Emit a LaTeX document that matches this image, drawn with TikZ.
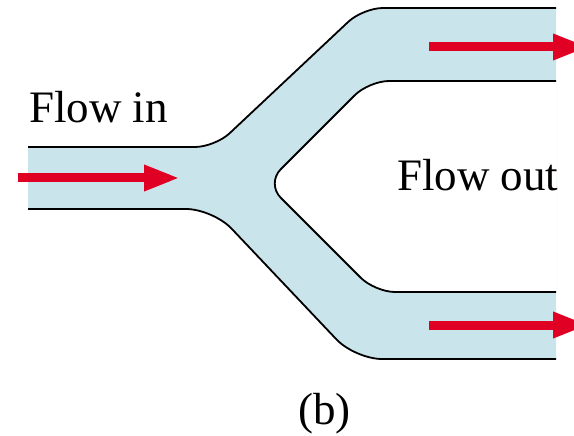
\documentclass[tikz,border=0pt]{standalone}
\usepackage{fontspec}
\setmainfont{Liberation Serif}
\usetikzlibrary{arrows.meta}
\definecolor{pipeblue}{RGB}{202,228,236}
\definecolor{flowred}{RGB}{224,0,36}
\tikzset{
  wall/.style={line width=1.8pt,color=black,line cap=butt},
  flow/.style={line width=9pt,color=flowred,-{Triangle[length=36pt,width=24pt]}},
  caption/.style={inner sep=0pt,anchor=base west,font=\fontsize{45}{54}\selectfont}
}
\begin{document}
\begin{tikzpicture}[line join=round,x=1pt,y=-1pt]
\useasboundingbox (0,0) rectangle (574,436);
% fluid
\begin{scope}
\clip (28,0) rectangle (556,436);
\fill[pipeblue,rounded corners=20pt] (0,147) -- (215,147) -- (363,8) -- (620,8) -- (620,190) -- (0,190) -- cycle;
\fill[pipeblue,rounded corners=27pt] (0,209) -- (213,209) -- (355,359) -- (620,359) -- (620,176) -- (0,176) -- cycle;
\fill[white,rounded corners=20pt] (620,81) -- (369,81) -- (266.5,183.5) -- (375,292) -- (620,292) -- cycle;
\end{scope}
% walls
\draw[wall,rounded corners=20pt] (28,147) -- (215,147) -- (363,8) -- (556,8);
\draw[wall,rounded corners=20pt] (556,81) -- (369,81) -- (266.5,183.5) -- (375,292) -- (556,292);
\draw[wall,rounded corners=27pt] (28,209) -- (213,209) -- (355,359) -- (556,359);
% arrows
\coordinate (in0) at (18,178);
\coordinate (in1) at (180,178);
\coordinate (up0) at (429,47);
\coordinate (up1) at (589,47);
\coordinate (lo0) at (429,325);
\coordinate (lo1) at (589,325);
\draw[flow] (in0) -- (in1);
\draw[flow] (up0) -- (up1);
\draw[flow] (lo0) -- (lo1);
% labels
\node[caption] (flowin) at (29,123) {Flow in};
\node[caption] (flowout) at (397,190) {Flow out};
\node[caption] (sub) at (298,424) {(b)};
\end{tikzpicture}
\end{document}
